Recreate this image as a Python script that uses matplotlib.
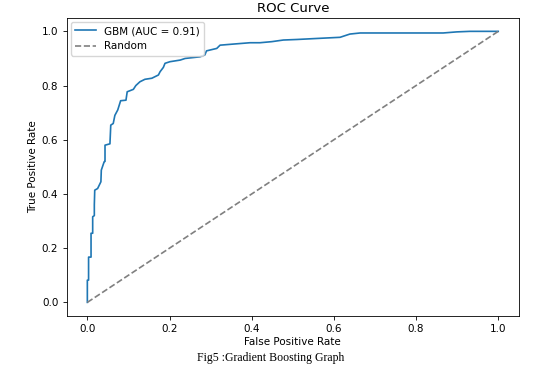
import numpy as np
import matplotlib.pyplot as plt

# ROC curve
fpr = [0.0, 0.0, 0.003, 0.003, 0.009, 0.009, 0.013, 0.013, 0.017, 0.017,
       0.018, 0.025, 0.033, 0.034, 0.041, 0.043, 0.043, 0.055, 0.057, 0.063,
       0.067, 0.074, 0.081, 0.094, 0.097, 0.112, 0.118, 0.128, 0.14, 0.157,
       0.173, 0.177, 0.185, 0.189, 0.201, 0.226, 0.238, 0.274, 0.286, 0.29,
       0.315, 0.323, 0.355, 0.396, 0.42, 0.449, 0.477, 0.51, 0.562, 0.615,
       0.639, 0.664, 0.866, 0.899, 0.931, 1.0]
tpr = [0.0, 0.082, 0.082, 0.167, 0.167, 0.255, 0.255, 0.316, 0.32, 0.36,
       0.414, 0.42, 0.445, 0.488, 0.519, 0.52, 0.58, 0.585, 0.654, 0.66,
       0.69, 0.71, 0.744, 0.746, 0.777, 0.786, 0.80, 0.814, 0.823, 0.827,
       0.839, 0.851, 0.867, 0.882, 0.888, 0.894, 0.90, 0.906, 0.913, 0.928,
       0.937, 0.949, 0.953, 0.958, 0.958, 0.962, 0.968, 0.97, 0.974, 0.978,
       0.99, 0.994, 0.994, 0.998, 1.0, 1.0]
auc = 0.91
chance = [0, 1]

fig = plt.figure(figsize=(5.4, 3.67), dpi=100)
ax = fig.add_axes([0.1237, 0.1392, 0.837, 0.8123])

ax.plot(fpr, tpr, color='#1f77b4', lw=1.2, label=f'GBM (AUC = {auc:.2f})')
ax.plot(chance, chance, color='gray', ls='--', lw=1.2, label='Random')

ax.set_title('ROC Curve', fontsize=9.5, pad=4)
ax.set_xlabel('False Positive Rate', fontsize=7.5, labelpad=2)
ax.set_ylabel('True Positive Rate', fontsize=7.5, labelpad=3)
ax.tick_params(labelsize=7.5, length=2.6, width=0.6)
for s in ax.spines.values():
    s.set_linewidth(0.6)
ax.legend(loc='upper left', fontsize=7.5, handlelength=2, borderaxespad=0.4)

fig.text(0.502, 0.016, 'Fig5 :Gradient Boosting Graph', ha='center',
         va='baseline', fontsize=8.5, family='Liberation Serif')

fig.savefig('out.png', dpi=100)
